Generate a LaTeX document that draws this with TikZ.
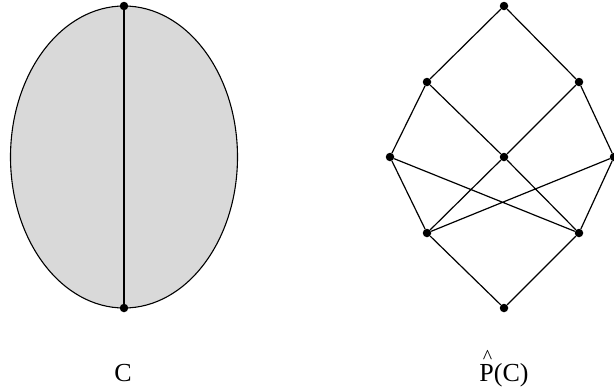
\documentclass[tikz,border=0pt]{standalone}
\usepackage{fontspec}
\setmainfont{Liberation Serif}
\begin{document}
\begin{tikzpicture}[x=1pt,y=-1pt,
  dot/.style={circle,fill=black,inner sep=0pt,minimum size=8.5pt},
  edge/.style={draw=black,line width=1.2pt},
  lbl/.style={font=\fontsize{26}{30}\selectfont,inner sep=0pt,anchor=base}]
\useasboundingbox (0,0) rectangle (614,391);
\draw[fill=black!15,line width=1.1pt] (124,157) ellipse [x radius=113.5, y radius=151];
\node[dot] (ct) at (124,6) {};
\node[dot] (cb) at (124,308) {};
\draw[edge] (ct) -- (cb);
\node[dot] (t) at (504,6) {};
\node[dot] (a1) at (427,82) {};
\node[dot] (a2) at (579,82) {};
\node[dot] (b1) at (390,157) {};
\node[dot] (b2) at (504,157) {};
\node[dot] (b3) at (614,157) {};
\node[dot] (c1) at (427,233) {};
\node[dot] (c2) at (579,233) {};
\node[dot] (bo) at (504,308) {};
\draw[edge] (t) -- (a1) (t) -- (a2)
  (a1) -- (b1) (a1) -- (b2) (a2) -- (b2) (a2) -- (b3)
  (b1) -- (c1) (b1) -- (c2) (b2) -- (c1) (b2) -- (c2) (b3) -- (c1) (b3) -- (c2)
  (c1) -- (bo) (c2) -- (bo);
\node[lbl] (lc) at (123,381) {C};
\node[lbl] (lp) at (504,381) {\makebox[0pt][l]{\raisebox{0.66em}{\hspace{0.13em}\fontsize{20}{24}\selectfont\^{}}}P(C)};
\end{tikzpicture}
\end{document}
